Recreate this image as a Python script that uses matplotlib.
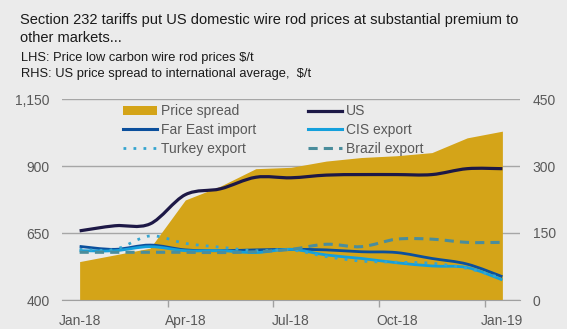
import matplotlib.pyplot as plt
from matplotlib.path import Path
from matplotlib.patches import PathPatch, Patch
from matplotlib.lines import Line2D

plt.rcParams['font.family'] = ['Liberation Sans', 'DejaVu Sans']

months = ['Jan-18', 'Feb-18', 'Mar-18', 'Apr-18', 'May-18', 'Jun-18', 'Jul-18',
          'Aug-18', 'Sep-18', 'Oct-18', 'Nov-18', 'Dec-18', 'Jan-19']
tick_labels = ['Jan-18', 'Apr-18', 'Jul-18', 'Oct-18', 'Jan-19']

# RHS: US price spread to international average, $/t
spread = [86, 101, 116, 224, 255, 294, 297, 311, 319, 323, 330, 363, 378]
# LHS: prices $/t
us = [658, 677, 684, 793, 815, 858, 856, 866, 868, 868, 868, 890, 890]
far_east = [600, 589, 605, 587, 584, 587, 589, 587, 580, 577, 555, 534, 487]
cis = [584, 584, 599, 584, 584, 577, 589, 568, 555, 539, 527, 521, 475]
turkey = [589, 589, 639, 611, 597, 584, 587, 562, 545, 541, 537, 518, 481]
brazil = [578, 578, 578, 578, 577, 580, 589, 608, 599, 627, 627, 615, 615]

BG = '#ebebeb'
TXT = '#595959'


def smooth_path(xs, ys):
    # excel style smoothed line, bezier through the data points
    pts = list(zip(xs, ys))
    verts = [pts[0]]
    codes = [Path.MOVETO]
    n = len(pts)
    for i in range(n - 1):
        p0 = pts[i - 1] if i > 0 else pts[i]
        p1 = pts[i]
        p2 = pts[i + 1]
        p3 = pts[i + 2] if i + 2 < n else pts[i + 1]
        c1 = (p1[0] + (p2[0] - p0[0]) / 6, p1[1] + (p2[1] - p0[1]) / 6)
        c2 = (p2[0] - (p3[0] - p1[0]) / 6, p2[1] - (p3[1] - p1[1]) / 6)
        verts += [c1, c2, p2]
        codes += [Path.CURVE4] * 3
    return Path(verts, codes)


fig = plt.figure(figsize=(5.67, 3.29), dpi=100, facecolor=BG)
ax2 = fig.add_axes([62 / 567, 29 / 329, 458 / 567, 201 / 329])
ax = ax2.twinx()
ax2.set_zorder(0)
ax.set_zorder(1)
ax.patch.set_visible(False)
ax2.set_facecolor(BG)

x = list(range(len(months)))

# area on right axis
ax2.fill_between(x, 0, spread, color='#d4a418', lw=0, zorder=2)
ax2.set_ylim(0, 450)
ax2.set_yticks([0, 150, 300, 450])
ax2.yaxis.grid(True, color='#a6a6a6', lw=1, zorder=0)
ax2.set_axisbelow(True)

# lines on left axis
styles = [
    (far_east, '#0b4f9c', '-', 2.0, 'Far East import'),
    (cis, '#14a0dc', '-', 2.0, 'CIS export'),
    (turkey, '#35a5d0', (0, (1, 2.6)), 2.0, 'Turkey export'),
    (brazil, '#4a8d9c', (0, (3, 2)), 2.2, 'Brazil export'),
    (us, '#1d1846', '-', 2.3, 'US'),
]
for ys, col, ls, lw, lab in styles:
    ax.add_patch(PathPatch(smooth_path(x, ys), fill=False, edgecolor=col,
                           lw=lw, linestyle=ls, capstyle='butt'))

ax.set_ylim(400, 1150)
ax.set_xlim(-0.5, 12.5)
ax.set_yticks([400, 650, 900, 1150])
ax.set_yticklabels(['{:,}'.format(v) for v in [400, 650, 900, 1150]])

# left axis labels: ax sits on the right side after twinx, so swap
ax.yaxis.tick_left()
ax2.yaxis.tick_right()
ax.tick_params(axis='y', length=0, pad=9, labelsize=10, labelcolor=TXT)
ax2.tick_params(axis='y', length=0, pad=9, labelsize=10, labelcolor=TXT)

ax2.set_xticks([0, 3, 6, 9, 12])
ax2.set_xticklabels(tick_labels)
ax2.set_xticks([2.5, 5.5, 8.5, 11.5], minor=True)
ax2.tick_params(axis='x', which='major', length=0, pad=10, labelsize=10, labelcolor=TXT)
ax2.tick_params(axis='x', which='minor', length=5, width=1, color='#a0a0a0')
ax.tick_params(axis='x', which='both', length=0, labelbottom=False)

for a in (ax, ax2):
    for s in ['top', 'left', 'right']:
        a.spines[s].set_visible(False)
ax.spines['bottom'].set_visible(False)
ax2.spines['bottom'].set_color('#a0a0a0')

handles = [
    Patch(facecolor='#d4a418', edgecolor='none', label='Price spread'),
    Line2D([], [], color='#0b4f9c', lw=2.2, label='Far East import'),
    Line2D([], [], color='#35a5d0', lw=2.0, ls=(0, (1, 2.6)), label='Turkey export'),
    Line2D([], [], color='#1d1846', lw=2.3, label='US'),
    Line2D([], [], color='#14a0dc', lw=2.2, label='CIS export'),
    Line2D([], [], color='#4a8d9c', lw=2.2, ls=(0, (3, 2)), label='Brazil export'),
]
leg = ax.legend(handles=handles, ncol=2, loc='upper left', bbox_to_anchor=(0.106, 1.035),
                frameon=False, fontsize=10, labelspacing=0.33, handlelength=2.45,
                handletextpad=0.3, columnspacing=3.7)
for t in leg.get_texts():
    t.set_color(TXT)

fig.text(20 / 567, 1 - 24 / 329, 'Section 232 tariffs put US domestic wire rod prices at substantial premium to',
         fontsize=10.5, color='#1a1a1a', va='baseline')
fig.text(20 / 567, 1 - 42 / 329, 'other markets...', fontsize=10.5, color='#1a1a1a', va='baseline')
fig.text(21 / 567, 1 - 61 / 329, 'LHS: Price low carbon wire rod prices $/t', fontsize=9.3,
         color='#1a1a1a', va='baseline')
fig.text(21 / 567, 1 - 77 / 329, 'RHS: US price spread to international average,  $/t', fontsize=9.3,
         color='#1a1a1a', va='baseline')

fig.savefig('out.png', dpi=100, facecolor=BG)
